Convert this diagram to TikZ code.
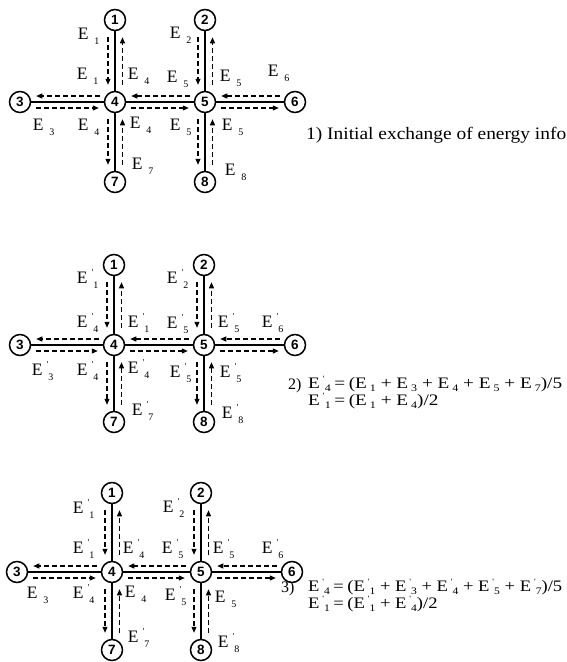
\documentclass[tikz,border=0pt]{standalone}
\usepackage{fontspec}
\setmainfont{Liberation Serif}
\newfontfamily\nodefont{Liberation Sans}
\usetikzlibrary{arrows.meta}

\newcommand{\subfs}{\fontsize{10}{10}\selectfont}
\newcommand{\Es}[1]{E\hspace{6pt}\raisebox{-4.5pt}{\subfs #1}}
\newcommand{\Ep}[1]{E\hspace{4.5pt}\rlap{\raisebox{8pt}{\fontsize{9}{9}\selectfont\textquotesingle}}\hspace{1.5pt}\raisebox{-4.5pt}{\subfs #1}}
\newcommand{\eqfs}{\fontsize{10}{10}\selectfont}
\newcommand{\Eq}[1]{E\hspace{2.5pt}\raisebox{-3pt}{\eqfs #1}}
\newcommand{\Eqp}[1]{E\hspace{2.5pt}\rlap{\raisebox{7pt}{\fontsize{8}{8}\selectfont\textquotesingle}}\hspace{1.5pt}\raisebox{-3pt}{\eqfs #1}}
\newcommand{\pl}{\kern4pt+\kern4pt}
\newcommand{\eqs}{\kern3pt=\kern3pt}

\tikzset{
  num/.style={circle, draw, line width=1.5pt, minimum size=21pt, inner sep=0pt,
    font=\nodefont\bfseries\fontsize{13.5}{13.5}\selectfont},
  link/.style={line width=1.5pt},
  darr/.style={line width=1.15pt, dash pattern=on 5pt off 3pt,
    -{Triangle[length=6pt,width=5pt]}},
  elab/.style={anchor=base west, inner sep=0pt, font=\fontsize{17.5}{17.5}\selectfont},
  txt/.style={anchor=west, inner sep=0pt, font=\fontsize{17.5}{17.5}\selectfont},
  eqn/.style={anchor=west, inner sep=0pt, font=\fontsize{16}{15}\selectfont},
}

\newcommand{\links}[1]{%
  \foreach \u/\v in {1/4,2/5,4/7,5/8} {
    \draw[link] (#1\u) -- (#1\v);
    \draw[darr] ([xshift=-7pt,yshift=-6pt]#1\u.south) -- ([xshift=-7pt,yshift=6pt]#1\v.north);
    \draw[darr] ([xshift=7.5pt,yshift=6pt]#1\v.north) -- ([xshift=7.5pt,yshift=-6pt]#1\u.south);
  }
  \foreach \u/\v in {3/4,4/5,5/6} {
    \draw[link] (#1\u) -- (#1\v);
    \draw[darr] ([xshift=-4pt,yshift=6pt]#1\v.west) -- ([xshift=5pt,yshift=6pt]#1\u.east);
    \draw[darr] ([xshift=5pt,yshift=-6pt]#1\u.east) -- ([xshift=-5pt,yshift=-6pt]#1\v.west);
  }
}

\begin{document}
\begin{tikzpicture}[x=1pt,y=-1pt]
\useasboundingbox (0,0) rectangle (566,662);

% ---------- panel 1 ----------
\node[num] (a1) at (115,20) {1};
\node[num] (a2) at (205,20) {2};
\node[num] (a3) at (20,102) {3};
\node[num] (a4) at (115,102) {4};
\node[num] (a5) at (205,102) {5};
\node[num] (a6) at (295,102) {6};
\node[num] (a7) at (115,182) {7};
\node[num] (a8) at (205,182) {8};
\links{a}
\node[elab] (la1) at (77.6,39.8) {\Es{1}};
\node[elab] (la2) at (76.6,79.8) {\Es{1}};
\node[elab] (la3) at (127.6,79.8) {\Es{4}};
\node[elab] (la4) at (169.6,38.8) {\Es{2}};
\node[elab] (la5) at (166.6,82.8) {\Es{5}};
\node[elab] (la6) at (219.6,81.8) {\Es{5}};
\node[elab] (la7) at (267.6,76.8) {\Es{6}};
\node[elab] (la8) at (32.6,130.8) {\Es{3}};
\node[elab] (la9) at (77.6,130.8) {\Es{4}};
\node[elab] (la10) at (129.6,128.8) {\Es{4}};
\node[elab] (la11) at (169.6,130.8) {\Es{5}};
\node[elab] (la12) at (221.6,130.8) {\Es{5}};
\node[elab] (la13) at (131.6,169.8) {\Es{7}};
\node[elab] (la14) at (224.6,175.8) {\Es{8}};
\node[txt] (ta) at (306,135) {\resizebox{260pt}{\height}{1) Initial exchange of energy info}};

% ---------- panel 2 ----------
\node[num] (b1) at (114,265) {1};
\node[num] (b2) at (204,265) {2};
\node[num] (b3) at (20,345) {3};
\node[num] (b4) at (114,345) {4};
\node[num] (b5) at (204,345) {5};
\node[num] (b6) at (295,345) {6};
\node[num] (b7) at (114,422) {7};
\node[num] (b8) at (204,422) {8};
\links{b}
\node[elab] (lb1) at (76.6,283.8) {\Ep{1}};
\node[elab] (lb2) at (166.6,283.8) {\Ep{2}};
\node[elab] (lb3) at (76.6,327.8) {\Ep{4}};
\node[elab] (lb4) at (127.6,327.8) {\Ep{1}};
\node[elab] (lb5) at (166.6,328.8) {\Ep{5}};
\node[elab] (lb6) at (217.6,327.8) {\Ep{5}};
\node[elab] (lb7) at (261.6,327.8) {\Ep{6}};
\node[elab] (lb8) at (31.6,375.8) {\Ep{3}};
\node[elab] (lb9) at (76.6,375.8) {\Ep{4}};
\node[elab] (lb10) at (127.6,373.8) {\Ep{4}};
\node[elab] (lb11) at (169.6,377.8) {\Ep{5}};
\node[elab] (lb12) at (219.6,377.8) {\Ep{5}};
\node[elab] (lb13) at (131.6,415.8) {\Ep{7}};
\node[elab] (lb14) at (221.6,418.8) {\Ep{8}};
\node[eqn] (nb) at (288,386) {2)};
\node[eqn] (tb) at (308,393) {\resizebox{254pt}{\height}{\begin{tabular}{@{}l@{}}
\Eqp{4}\eqs(\Eq{1}\pl\Eq{3}\pl\Eq{4}\pl\Eq{5}\pl\Eq{7})/5\\
\Eqp{1}\eqs(\Eq{1}\pl\Eq{4})/2
\end{tabular}}};

% ---------- panel 3 ----------
\node[num] (c1) at (112,493) {1};
\node[num] (c2) at (201,493) {2};
\node[num] (c3) at (17,572) {3};
\node[num] (c4) at (112,572) {4};
\node[num] (c5) at (201,572) {5};
\node[num] (c6) at (292,572) {6};
\node[num] (c7) at (112,650) {7};
\node[num] (c8) at (201,650) {8};
\links{c}
\node[elab] (lc1) at (72.6,513.8) {\Ep{1}};
\node[elab] (lc2) at (162.6,512.8) {\Ep{2}};
\node[elab] (lc3) at (72.6,553.8) {\Ep{1}};
\node[elab] (lc4) at (122.6,553.8) {\Ep{4}};
\node[elab] (lc5) at (161.6,553.8) {\Ep{5}};
\node[elab] (lc6) at (212.6,553.8) {\Ep{5}};
\node[elab] (lc7) at (261.6,553.8) {\Ep{6}};
\node[elab] (lc8) at (26.6,598.8) {\Es{3}};
\node[elab] (lc9) at (72.6,598.8) {\Ep{4}};
\node[elab] (lc10) at (124.6,597.8) {\Es{4}};
\node[elab] (lc11) at (164.6,600.8) {\Ep{5}};
\node[elab] (lc12) at (214.6,602.8) {\Es{5}};
\node[elab] (lc13) at (127.6,642.8) {\Ep{7}};
\node[elab] (lc14) at (217.6,647.8) {\Ep{8}};
\node[eqn] (nc) at (281,589) {3)};
\node[eqn] (tc) at (308,596) {\resizebox{254pt}{\height}{\begin{tabular}{@{}l@{}}
\Eqp{4}\eqs(\Eqp{1}\pl\Eqp{3}\pl\Eqp{4}\pl\Eqp{5}\pl\Eqp{7})/5\\
\Eqp{1}\eqs(\Eqp{1}\pl\Eqp{4})/2
\end{tabular}}};
\end{tikzpicture}
\end{document}
